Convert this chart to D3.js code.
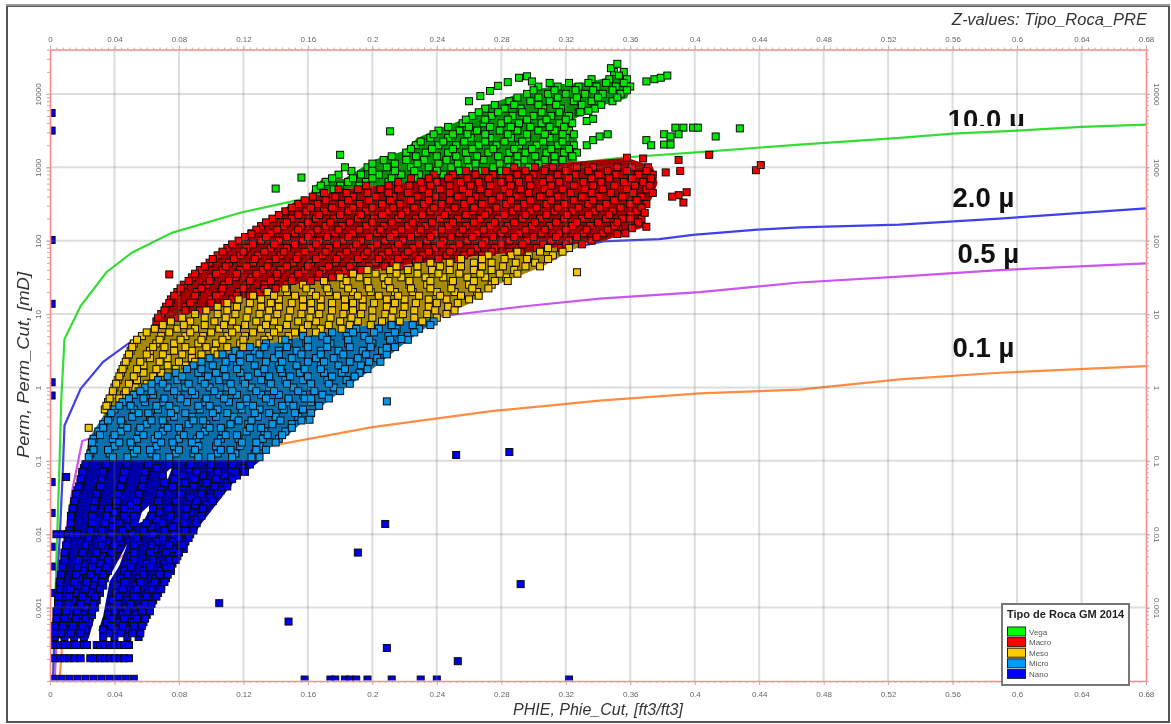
<!DOCTYPE html>
<html><head><meta charset="utf-8">
<script src="https://cdn.jsdelivr.net/npm/d3@7/dist/d3.min.js"></script>
<style>html,body{margin:0;padding:0;background:#fff}svg{display:block;filter:blur(.7px)}</style>
</head><body><svg id="c" width="1171" height="724"></svg>
<script>
// Point rows: [log10(perm), [PHIE in thousandths ...]]
const vegaRows=[[4.3,[350,356]],[4.2,[336,347,358]],[4.1,[303,315,328,339,351,360]],[4.0,[296,309,320,332,343,354]],[3.9,[285,298,310,325,336,349]],[3.8,[270,282,292,306,317,330,338]],[3.7,[262,274,287,300,311,322]],[3.6,[256,269,280,291,305,316,324]],[3.5,[241,254,265,279,290,303,313,322]],[3.4,[236,247,261,273,286,296,310,320]],[3.3,[227,241,252,266,277,291,302,315,325]],[3.2,[221,233,247,258,272,285,295,308,319,327]],[3.1,[207,221,232,246,259,269,284,294,307,318]],[3.0,[197,209,224,235,249,260,275,285,297]],[2.9,[179,193,204,218,229,244]],[2.8,[171,185,196,210]],[2.7,[165,176]]];
const vegaFill=[[4.25,[353]],[4.15,[310,322,334,345,356]],[4.05,[300,313,326,337,349,358]],[3.95,[290,303,315,327,340,352]],[3.85,[276,288,303,314,330,342]],[3.75,[266,278,293,305,316,328]],[3.65,[258,270,284,296,308,320]],[3.55,[247,260,273,286,298,310,319]],[3.45,[238,250,259,270,284,296,307,318,325]],[3.35,[230,244,257,270,282,293,306,318]],[3.25,[224,237,250,262,275,288,299,311,322]],[3.15,[212,227,240,252,265,278,290,301,313,324]],[3.05,[200,214,228,241,253,264,279,290,303,313]],[2.95,[187,200,214,226,240,254,268,280]],[2.85,[175,188,200,212,226]],[2.75,[168,180,192]]];
const vegaOut=[[140,2.71],[156,2.86],[180,3.17],[183,3.0],[211,3.49],[260,3.9],[267,3.97],[273,4.04],[278,4.11],[284,4.16],[291,4.22],[296,4.24],[299,4.17],[370,4.17],[375,4.2],[379,4.22],[383,4.25],[348,4.35],[352,4.41],[333,3.63],[337,3.66],[334,3.77],[329,3.75],[333,3.3],[337,3.37],[341,3.42],[346,3.45],[370,3.37],[373,3.3],[381,3.31],[385,3.31],[381,3.45],[388,3.54],[393,3.54],[390,3.45],[385,3.42],[399,3.54],[402,3.54],[413,3.42],[428,3.53]];
const macroRows=[[3.0,[288,301,312,327,337,352,361,371]],[2.9,[238,250,264,275,290,300,315,326,340,351,365,374]],[2.8,[216,230,240,255,266,280,291,306,316,331,342,356,368]],[2.7,[179,191,205,216,231,242,256,267,282,292,307,318,332,343,358,370]],[2.6,[163,177,188,202,213,228,239,253,264,279,289,304,315,330,340,355,367]],[2.5,[154,166,181,192,206,217,232,243,257,268,283,294,308,319,334,345,360,370]],[2.4,[146,159,170,185,196,210,221,236,247,262,272,287,298,313,324,338,349,364]],[2.3,[138,150,165,176,191,201,216,227,242,253,267,278,293,304,319,330,345,355,367]],[2.2,[131,145,156,171,181,196,207,222,233,247,258,273,284,299,310,324,335,350]],[2.1,[125,137,152,162,177,188,203,214,228,239,254,265,280,291,305,316,331,343]],[2.0,[117,131,142,157,167,182,193,208,219,234,244,259,270,285,296,311,322,336]],[1.9,[110,122,137,147,162,173,188,199,214,225,239,250,265,276,291,302,317]],[1.8,[104,118,129,143,154,169,180,195,206,220,231,246,257,268]],[1.7,[99,111,126,136,151,162,177,188,202,213,227]],[1.6,[93,107,118,132,143,158,169,183,193]],[1.5,[88,100,115,125,140,151,166,175]],[1.4,[83,97,108,122,133,147]],[1.3,[79,91,106,117,130]],[1.2,[75,89,100,113]],[1.1,[72,84,99]],[1.0,[69,82]],[0.9,[66]]];
const macroFill=[[2.95,[258,270,283,295,307,320,334,346,358,370]],[2.85,[224,235,247,259,272,285,297,310,322,336,347,361,373]],[2.75,[196,210,223,236,248,261,273,286,298,311,325,337,350,363,372]],[2.65,[170,184,197,210,222,235,248,260,272,285,297,310,323,336,348,362,374]],[2.55,[158,171,185,198,211,224,235,248,261,274,286,298,311,325,337,350,364]],[2.45,[150,162,175,188,200,213,226,238,251,263,277,290,302,315,328,341,354,367]],[2.35,[142,154,167,180,193,206,218,231,245,258,270,282,295,308,321,334,347,360]],[2.25,[134,147,160,174,186,200,212,225,237,250,263,276,288,301,314,327,340,352,365]],[2.15,[128,141,154,166,179,192,205,218,230,243,256,269,282,295,307,320,333,346]],[2.05,[121,134,147,160,172,185,198,211,224,236,249,262,275,288,300,314,327,339]],[1.95,[113,126,139,152,165,178,190,203,216,229,242,254,268,280,293,306,320,330]],[1.85,[107,120,133,145,158,171,184,197,210,222,235,248,261,274,285,292]],[1.75,[101,114,127,140,153,165,178,191,204,216,229,241,253]],[1.65,[96,109,122,135,147,160,173,186,198,208,217]],[1.55,[90,103,116,128,141,154,167,179,187]],[1.45,[86,99,111,124,137,150,162]],[1.35,[81,94,107,120,133,140]],[1.25,[77,90,103,116,124]],[1.15,[74,87,100,108]],[1.05,[71,84,93]],[0.95,[67,79]]];
const macroOut=[[125,2.09],[74,1.54],[358,3.13],[368,3.12],[390,3.1],[391,2.95],[382,2.93],[409,3.17],[438,2.96],[441,3.03],[395,2.66],[390,2.62],[386,2.6],[393,2.52],[369,2.38],[360,2.3],[370,2.19],[361,2.17],[357,2.1],[352,2.09]];
const mesoRows=[[1.9,[309,322]],[1.8,[272,286,297,312]],[1.7,[236,248,263,274,289,301]],[1.6,[197,211,222,237,248,263,274,288]],[1.5,[180,192,207,218,233,244,259,270,283]],[1.4,[157,171,182,197,208,223,234,249,260,274]],[1.3,[135,147,162,173,188,199,214,225,240,251,265]],[1.2,[117,131,142,157,168,183,194,209,220,235,246,260]],[1.1,[104,116,131,142,157,168,183,194,209,220,235,247]],[1.0,[90,104,115,130,141,156,167,182,193,208,219,234,246]],[0.9,[75,87,102,113,128,139,154,165,180,191,206,217,231]],[0.8,[65,79,90,105,116,131,142,157,168,181]],[0.7,[57,69,84,95,110,121,136,148]],[0.6,[52,66,77,92,103,118,130]],[0.5,[50,62,77,88,102]],[0.4,[48,62,73,88,95]],[0.3,[46,58,73,84]],[0.2,[44,58,69]],[0.1,[42,54]],[0,[40,53]],[-0.1,[39,46]],[-0.2,[36]],[-0.3,[34]]];
const mesoFill=[[1.85,[290,304,318]],[1.75,[255,268,282,296,309]],[1.65,[215,228,242,255,268,281,295,304]],[1.55,[188,202,215,228,241,254,267,279,290]],[1.45,[170,184,197,210,223,236,250,263,276,284]],[1.35,[146,159,172,185,198,211,224,236,249,262,272]],[1.25,[126,139,152,165,178,191,204,216,229,242,255,266]],[1.15,[110,124,137,150,162,175,188,201,214,227,240,253]],[1.05,[97,110,123,136,149,162,175,188,200,213,226,239,251]],[0.95,[82,96,109,122,135,148,161,174,187,200,212,226,240]],[0.85,[70,83,96,108,121,134,147,160,173,186,199,212]],[0.75,[60,74,87,100,113,126,139,152,165]],[0.65,[54,68,81,94,107,120,133,144]],[0.55,[51,64,71,84,97,110,120]],[0.45,[49,60,70,82,94,104]],[0.35,[47,56,68,80,90]],[0.25,[45,54,66,78]],[0.15,[43,52,64]],[0.05,[41,49,60]],[-0.05,[39,47,55]],[-0.15,[37,43]],[-0.25,[35]]];
const mesoOut=[[327,1.57],[24,-0.55]];
const microRows=[[0.9,[238]],[0.8,[190,204,215,229]],[0.7,[157,169,184,195,210,222]],[0.6,[134,148,159,174,185,200,212]],[0.5,[115,127,142,153,168,179,194,206]],[0.4,[99,113,124,139,150,165,176,191,203]],[0.3,[89,101,116,127,142,153,168,179,193]],[0.2,[78,92,103,118,129,144,155,170,181,192]],[0.1,[67,79,94,105,120,131,146,157,172,184]],[0,[59,73,84,99,110,125,136,151,162,176]],[-0.1,[52,64,79,90,105,116,131,142,157,169]],[-0.2,[45,59,70,85,96,111,122,137,148,162]],[-0.3,[40,52,67,78,93,104,119,130,145,157]],[-0.4,[37,51,62,77,88,103,114,129,140,154]],[-0.5,[33,45,60,71,86,97,112,123,138,150]],[-0.6,[30,44,55,70,81,96,107,122,133,146]],[-0.7,[27,39,54,65,80,91,106,117,132,142]],[-0.8,[26,40,51,66,77,92,103,118,130]],[-0.9,[25,37,52,63,78,89,104,115,127]]];
const microFill=[[0.85,[212,225,236]],[0.75,[175,188,201,214,226]],[0.65,[146,160,172,185,198,211,222]],[0.55,[124,133,147,160,172,186,199,214]],[0.45,[107,118,130,142,156,168,182,196,209]],[0.35,[94,109,118,134,144,160,170,186,198,205]],[0.25,[85,94,108,116,133,143,158,168,183,197]],[0.15,[73,82,98,109,123,136,149,160,175,189]],[0.05,[63,70,86,96,112,121,137,147,162,173,186]],[-0.05,[56,63,77,88,102,113,128,139,154,164,180]],[-0.15,[49,58,71,81,97,108,122,134,148,158,173]],[-0.25,[43,50,66,74,92,99,118,126,144,151,167]],[-0.35,[38,55,61,75,84,101,110,127,136,152,162]],[-0.45,[36,44,63,70,89,95,117,125,143,156]],[-0.55,[33,48,56,73,80,99,106,124,131,150]],[-0.65,[31,40,58,67,83,93,109,116,135,144]],[-0.75,[26,43,50,69,76,88,104,119,128,140]],[-0.85,[27,36,54,62,80,90,106,112,128,134]],[-0.95,[24,39,48,66,74,92,100,113,125,130]]];
const microOut=[[218,0.66],[209,0.54],[209,-0.19],[161,-0.44],[162,-0.15]];
const nanoRows=[[-1.1,[21,34,47,60,66,86,99,112,120]],[-1.2,[20,33,46,59,70,82,95,108,116]],[-1.3,[19,32,45,58,71,84,97,110]],[-1.4,[17,30,43,56,69,82,95,106]],[-1.5,[16,29,42,55,68,87,100]],[-1.6,[15,28,41,50,68,90,97]],[-1.7,[14,27,40,50,68,87,94]],[-1.8,[13,26,39,48,66,78,91]],[-1.9,[13,26,39,49,63,76,89]],[-2.0,[12,25,38,51,64,77,87]],[-2.1,[11,24,35,44,55,66,76,84]],[-2.2,[10,22,34,42,53,65,76,83]],[-2.3,[9,21,33,39,50,62,73,79]],[-2.4,[8,20,31,37,48,60,71,76]],[-2.5,[8,20,30,36,46,58,69,75]],[-2.6,[7,18,28,34,44,55,66,72]],[-2.7,[6,17,27,33,42,53,63,69]],[-2.8,[6,16,25,31,41,52,61,67]],[-2.9,[5,14,23,29,39,49,58,64]],[-3.0,[5,13,22,28,38,47,56,62]],[-3.1,[5,12,20,26,36,45,53,60]],[-3.2,[4,11,18,24,35,43,51,58]],[-3.3,[4,10,16,22,33,41,49,56]],[-3.4,[3,9,15,21,33,40,48,55]],[-3.51,[3,6,9,12,15,18,21,23,29,31,34,37,40,43,46,49]],[-3.69,[3,6,9,12,15,19,25,28,31,34,37,40,43,46,49]],[-3.97,[2,7,12,17,22,27,32,37,42,47,52]]];
const nanoFill=[[-1.05,[22,35,48,61,74,87,100,113,124]],[-1.15,[20,33,46,59,78,91,104,115,121]],[-1.25,[19,32,45,58,77,90,103,113]],[-1.35,[18,31,44,57,76,89,102,110]],[-1.45,[16,29,42,55,68,81,94,104]],[-1.55,[15,28,41,54,67,78,91,101]],[-1.65,[14,27,36,46,54,64,74,85,95]],[-1.75,[13,26,35,46,52,63,75,84,94]],[-1.85,[13,26,34,43,52,60,70,83,91]],[-1.95,[12,25,32,45,58,71,84,89]],[-2.05,[11,24,33,43,54,70,80,86]],[-2.15,[10,22,32,40,52,63,74,82]],[-2.25,[9,20,29,38,52,62,72,80]],[-2.35,[9,18,27,36,52,64,74,78]],[-2.45,[8,17,26,35,50,62,72,75]],[-2.55,[7,16,25,33,48,58,68,73]],[-2.65,[6,15,23,32,46,56,65,71]],[-2.75,[6,13,22,31,45,54,63,69]],[-2.85,[5,12,20,28,43,52,60,66]],[-2.95,[5,11,19,27,42,50,59,63]],[-3.05,[4,10,17,26,40,48,57,62]],[-3.15,[4,9,16,22,38,46,54,59]],[-3.25,[3,8,14,20,38,45,52,57]],[-3.35,[3,7,13,19,37,44,51,56]]];
const nanoOut=[[1,3.74],[1,3.5],[1,2.01],[1,1.14],[1,0.07],[1,-0.11],[1,-1.29],[10,-1.22],[1,-1.71],[1,-2.17],[1,-2.44],[1,-2.8],[4,-2.0],[8,-2.0],[11,-2.0],[14,-2.0],[17,-2.0],[252,-0.92],[285,-0.88],[208,-1.86],[191,-2.25],[292,-2.68],[105,-2.94],[148,-3.19],[209,-3.55],[253,-3.73],[158,-3.98],[174,-3.98],[177,-3.98],[183,-3.98],[186,-3.98],[190,-3.98],[197,-3.98],[212,-3.98],[230,-3.98],[240,-3.98],[322,-3.98]];
// Region outlines of the dense clouds: [PHIE thousandths, log10(perm)]
const vegaCloud=[[161,2.6],[163,2.72],[170,2.86],[182,2.84],[202,3.11],[219,3.22],[228,3.4],[238,3.5],[259,3.67],[271,3.85],[288,3.98],[316,4.13],[333,4.16],[354,4.26],[361,4.11],[358,3.94],[335,3.79],[323,3.62],[327,3.38],[327,3.08],[316,3.06],[292,3.01],[265,2.97],[244,2.93],[219,2.79],[200,2.74],[182,2.7]];
const macroCloud=[[66,0.97],[76,1.24],[87,1.43],[99,1.74],[112,1.95],[126,2.11],[138,2.33],[151,2.52],[161,2.6],[182,2.7],[200,2.74],[219,2.79],[244,2.93],[265,2.97],[292,3.01],[316,3.06],[358,3.13],[374,3.01],[377,2.79],[374,2.6],[368,2.38],[370,2.19],[354,2.08],[343,1.99],[332,1.97],[316,1.91],[296,1.85],[265,1.79],[234,1.7],[213,1.65],[178,1.5],[143,1.36],[126,1.24],[105,1.13],[83,0.97],[62,0.79]];
const mesoCloud=[[62,0.79],[83,0.97],[105,1.13],[126,1.24],[143,1.36],[178,1.5],[213,1.65],[234,1.7],[265,1.79],[296,1.85],[316,1.91],[332,1.97],[306,1.65],[275,1.38],[259,1.13],[243,0.97],[234,0.93],[207,0.89],[176,0.77],[149,0.66],[118,0.52],[97,0.39],[76,0.15],[56,-0.02],[33,-0.39],[37,-0.02],[50,0.62]];
const microCloud=[[33,-0.39],[56,-0.02],[76,0.15],[97,0.39],[118,0.52],[149,0.66],[176,0.77],[207,0.89],[234,0.93],[243,0.97],[221,0.62],[200,0.25],[180,-0.06],[161,-0.39],[143,-0.74],[132,-0.88],[131,-0.99],[22,-0.99],[24,-0.7]];
const nanoCloud=[[20,-0.99],[131,-0.99],[114,-1.29],[93,-1.88],[79,-2.37],[64,-2.92],[56,-3.38],[30,-3.32],[33,-3.11],[37,-2.64],[43,-2.43],[48,-2.13],[42,-2.37],[33,-2.74],[27,-3.19],[24,-3.42],[2,-3.42],[4,-2.88],[11,-1.92]];
const nanoHoleA=[[55,-1.85],[57,-1.7],[62,-1.6],[62,-1.66],[58,-1.82]];
const nanoHoleB=[[71,-1.18],[76,-1.08],[73,-1.25]];
// Pore-throat curves: [PHIE thousandths, log10(perm)]
const curve10=[[2,-3.96],[4,-2.33],[6,-0.97],[7,-0.16],[9,0.66],[19,1.11],[35,1.57],[51,1.84],[76,2.11],[118,2.38],[155,2.56],[240,2.87],[327,3.06],[354,3.13],[405,3.21],[465,3.31],[527,3.4],[560,3.46],[600,3.5],[640,3.55],[680,3.58]];
const curve2=[[2,-3.96],[3,-3.15],[6,-2.06],[8,-1.11],[9,-0.52],[19,-0.02],[33,0.35],[50,0.62],[343,1.99],[378,2.02],[399,2.08],[439,2.15],[465,2.18],[527,2.22],[589,2.3],[680,2.44]];
const curve05=[[3,-3.96],[6,-2.56],[14,-1.38],[20,-0.73],[243,0.97],[296,1.11],[341,1.21],[403,1.3],[465,1.43],[527,1.51],[589,1.6],[680,1.69]];
const curve01=[[6,-3.96],[7,-3.69],[9,-2.88],[132,-0.88],[136,-0.8],[200,-0.54],[275,-0.32],[341,-0.18],[403,-0.08],[465,-0.03],[527,0.11],[589,0.2],[680,0.29]];
const curveColors=["#33dd33","#3f3fee","#cc55ee","#ff8c42"];
const curveLabels=["10.0 µ","2.0 µ","0.5 µ","0.1 µ"];
const labelPos=[[0.557,3.52],[0.56,2.46],[0.563,1.69],[0.56,0.41]];
const xTicks=[0,0.04,0.08,0.12,0.16,0.2,0.24,0.28,0.32,0.36,0.4,0.44,0.48,0.52,0.56,0.6,0.64,0.68];
const yTicks=[10000,1000,100,10,1,0.1,0.01,0.001];
const legendNames=["Vega","Macro","Meso","Micro","Nano"];
const legendColors=["#00ff00","#ff0000","#ffcc00","#0099ff","#0000ff"];
const markColors=["#00e600","#f40000","#f0c400","#0a96e6","#0000f0"];
const cloudColors=["#009400","#a40000","#a88a00","#0870ac","#0000aa"];

const svg=d3.select("#c");
const L=50,R=1146,T=49.5,B=681;
const x=d3.scaleLinear().domain([0,0.68]).range([L,R]);
const y=d3.scaleLog().domain([1e-4,Math.pow(10,4.605)]).range([B,T]);
const px=p=>x(p[0]/1000), py=p=>y(Math.pow(10,p[1]));
const line=d3.line().x(px).y(py);

svg.append("rect").attr("x",7).attr("y",6).attr("width",1162).attr("height",716).attr("fill","#fff").attr("stroke","#555").attr("stroke-width",2);
svg.append("line").attr("x1",6).attr("x2",1170).attr("y1",5).attr("y2",5).attr("stroke","#999").attr("stroke-width",2);
svg.append("defs").append("clipPath").attr("id","pl").append("rect").attr("x",L).attr("y",T).attr("width",R-L).attr("height",B-T-.5);
svg.select("defs").append("clipPath").attr("id","lab").append("rect").attr("x",900).attr("y",T).attr("width",240).attr("height",76.5);

const plot=svg.append("g").attr("clip-path","url(#pl)");
[curve10,curve2,curve05,curve01].forEach((c,i)=>plot.append("path").attr("d",line(c)).attr("fill","none").attr("stroke",curveColors[i]).attr("stroke-width",2.2));

const clouds=[vegaCloud,macroCloud,mesoCloud,microCloud,nanoCloud];
const rows=[vegaRows.concat(vegaFill),macroRows.concat(macroFill),mesoRows.concat(mesoFill),microRows.concat(microFill),nanoRows.concat(nanoFill)];
const outs=[vegaOut,macroOut,mesoOut,microOut,nanoOut];
clouds.forEach((c,i)=>{
  const extra=i===4?line(nanoHoleA)+"Z"+line(nanoHoleB)+"Z":"";
  plot.append("path").attr("d",line(c)+"Z"+extra).attr("fill-rule","evenodd").attr("fill",cloudColors[i]);
});
const S=7;
rows.forEach((r,i)=>{
  const pts=r.flatMap(([k,ps])=>ps.map(p=>[p,k])).concat(outs[i]);
  plot.append("g").selectAll("rect").data(pts).join("rect")
    .attr("x",d=>px(d)-S/2).attr("y",d=>py(d)-S/2).attr("width",S).attr("height",S)
    .attr("fill",markColors[i]).attr("stroke","#0a0a0a").attr("stroke-width",1);
});

// grid over the marks
const grid=svg.append("g").attr("stroke","rgba(120,120,120,.25)").attr("stroke-width",2);
grid.selectAll(".gx").data(xTicks.slice(1,-1)).join("line").attr("x1",d=>x(d)).attr("x2",d=>x(d)).attr("y1",T).attr("y2",B);
grid.selectAll(".gy").data(yTicks).join("line").attr("y1",d=>y(d)).attr("y2",d=>y(d)).attr("x1",L).attr("x2",R);

// axes
const minorX=d3.range(0,0.6801,0.004);
const decades=d3.range(-4,5);
const minorY=decades.flatMap(e=>d3.range(1,10).map(m=>m*Math.pow(10,e))).filter(v=>v<=y.domain()[1]);
const fmt=d=>String(d);
function style(g){g.select(".domain").attr("stroke","#ff8a8a").attr("stroke-width",1.6);g.selectAll(".tick line").attr("stroke","#c9a8a8");g.selectAll("text").attr("fill","#666").attr("font-family","Liberation Sans").attr("font-size",8);}
[[d3.axisTop,T],[d3.axisBottom,B]].forEach(([ax,pos])=>{
  svg.append("g").attr("transform",`translate(0,${pos})`).call(ax(x).tickValues(minorX).tickSize(2).tickFormat("").tickSizeOuter(0)).call(style);
  const g=svg.append("g").attr("transform",`translate(0,${pos})`).call(ax(x).tickValues(xTicks).tickSize(4).tickPadding(pos===T?4:6).tickFormat(fmt).tickSizeOuter(0)).call(style);
  g.select(".domain").remove();
});
[[d3.axisLeft,L,-90],[d3.axisRight,R,90]].forEach(([ax,pos,rot])=>{
  svg.append("g").attr("transform",`translate(${pos},0)`).call(ax(y).tickValues(minorY).tickSize(3).tickFormat("").tickSizeOuter(0)).call(style);
  const g=svg.append("g").attr("transform",`translate(${pos},0)`).call(ax(y).tickValues(yTicks).tickSize(4).tickFormat(fmt).tickSizeOuter(0)).call(style);
  g.select(".domain").remove();
  g.selectAll("text").attr("dx",null).attr("dy",null).attr("x",null).attr("y",null).attr("text-anchor","middle")
    .attr("transform",`translate(${rot<0?-11:10},0) rotate(${rot})`).attr("dominant-baseline","middle");
});

// curve labels
const lab=svg.append("g").attr("font-family","Liberation Sans").attr("font-weight","bold").attr("font-size",27.5).attr("fill","#111");
curveLabels.forEach((t,i)=>{
  const e=lab.append("text").text(t).attr("x",x(labelPos[i][0])).attr("y",y(Math.pow(10,labelPos[i][1])));
  if(i===0) e.attr("clip-path","url(#lab)");
});

// titles
const tt=svg.append("g").attr("font-family","Liberation Sans").attr("font-style","italic").attr("fill","#333").attr("font-size",16);
tt.append("text").text("Z-values: Tipo_Roca_PRE").attr("x",1147).attr("y",25).attr("text-anchor","end").attr("font-size",16.5);
tt.append("text").text("PHIE, Phie_Cut, [ft3/ft3]").attr("x",598).attr("y",715).attr("text-anchor","middle");
tt.append("text").text("Perm, Perm_Cut, [mD]").attr("transform","translate(29,365) rotate(-90)").attr("text-anchor","middle").attr("font-size",17).attr("textLength",186).attr("lengthAdjust","spacingAndGlyphs");

// legend
const lg=svg.append("g");
lg.append("rect").attr("x",1002).attr("y",604).attr("width",127).attr("height",81).attr("fill","#fff").attr("stroke","#777").attr("stroke-width",2);
lg.append("text").text("Tipo de Roca GM 2014").attr("x",1007).attr("y",618).attr("font-family","Liberation Sans").attr("font-weight","bold").attr("font-size",11).attr("fill","#222");
legendNames.forEach((n,i)=>{
  lg.append("rect").attr("x",1007.5).attr("y",627+i*10.6).attr("width",18).attr("height",9).attr("fill",legendColors[i]).attr("stroke","#222");
  lg.append("text").text(n).attr("x",1029).attr("y",634.5+i*10.6).attr("font-family","Liberation Sans").attr("font-size",8).attr("fill","#555");
});
</script></body></html>
